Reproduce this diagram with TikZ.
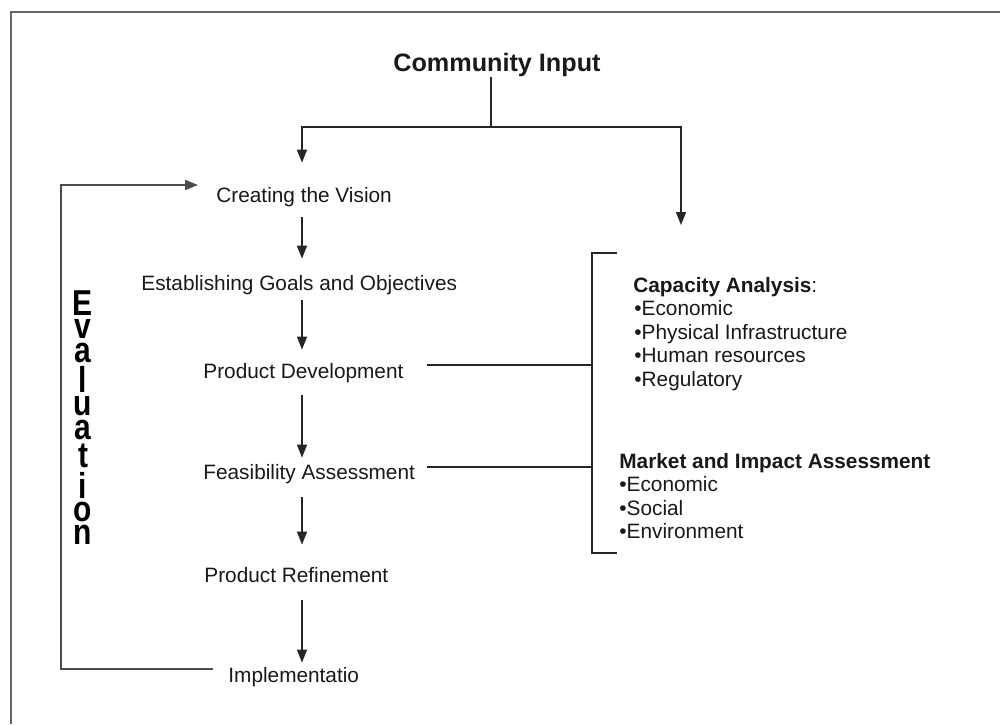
\documentclass[tikz,border=0pt]{standalone}
\usepackage{fontspec}
\setmainfont{Liberation Sans}
\usepackage{graphicx}
\usetikzlibrary{arrows.meta}
\begin{document}
\begin{tikzpicture}[x=0.5pt,y=-0.5pt,
  txt/.style={inner sep=0pt, font=\fontsize{10.4pt}{12pt}\selectfont, text=black!90, anchor=base west, text height=7.5pt, text depth=2pt},
  ln/.style={draw=black!85, line width=0.75pt},
  frm/.style={draw=black!60, line width=1pt},
  tip/.style={-{Triangle[width=5pt,length=6.5pt]}},
  arr/.style={ln, tip},
  ev/.style={inner sep=0pt, anchor=base, font=\fontsize{15pt}{17pt}\selectfont\bfseries, text=black}]
\useasboundingbox (0,0) rectangle (1000,724);
\fill[white] (0,0) rectangle (1000,724);
% outer frame
\draw[frm] (11,724) -- (11,12) -- (1000,12);
% nodes
\node[txt, font=\fontsize{12.6pt}{14pt}\selectfont\bfseries, text height=9pt, text depth=2.5pt] (CI) at (393,71.5) {Community Input};
\node[txt] (CV) at (216,202.5) {Creating the Vision};
\node[txt] (EG) at (141,290.5) {Establishing Goals and Objectives};
\node[txt] (PD) at (203,378.5) {Product Development};
\node[txt] (FA) at (203,479.5) {Feasibility Assessment};
\node[txt] (PR) at (204,582) {Product Refinement};
\node[txt] (IM) at (228,682) {Implementatio};
% right column
\node[txt] (CA0) at (633,292) {\textbf{Capacity Analysis}:};
\node[txt] (CA1) at (634,315.5) {•Economic};
\node[txt] (CA2) at (634,339) {•Physical Infrastructure};
\node[txt] (CA3) at (634,362.5) {•Human resources};
\node[txt] (CA4) at (634,386) {•Regulatory};
\node[txt] (MA0) at (619,468) {\textbf{Market and Impact Assessment}};
\node[txt] (MA1) at (619,491.5) {•Economic};
\node[txt] (MA2) at (619,515) {•Social};
\node[txt] (MA3) at (619,538.5) {•Environment};
% Evaluation
\foreach \ch/\yy [count=\k] in {E/315.8, v/338.9, a/362.4, l/392.6, u/415.9, a/439.4, t/467.8, i/498, o/521.7, n/544.8}
  \node[ev] (ev\k) at (83,\yy) {\scalebox{1}[1.2]{\ch}};
% coordinates
\coordinate (ax) at (302,0);
\coordinate (J) at (491,127);
\coordinate (RA) at (681,225);
\coordinate (BT) at (592,253);
\coordinate (BB) at (592,553);
\coordinate (B1) at (592,365);
\coordinate (B2) at (592,467);
\coordinate (Lb) at (61,669);
\coordinate (Lt) at (61,185);
% top connectors
\draw[ln] (CI.south -| J) -- (J);
\draw[arr, shorten >=12.25pt] (J) -| (CV.north -| ax);
\draw[arr] (J) -| (RA);
% vertical chain
\draw[arr, shorten <=5.25pt, shorten >=8.25pt] (CV.south -| ax) -- (EG.north -| ax);
\draw[arr, shorten <=2.75pt, shorten >=6.75pt] (EG.south -| ax) -- (PD.north -| ax);
\draw[arr, shorten <=6.25pt, shorten >=3.25pt] (PD.south -| ax) -- (FA.north -| ax);
\draw[arr, shorten <=6.75pt, shorten >=11pt] (FA.south -| ax) -- (PR.north -| ax);
\draw[arr, shorten <=7pt, shorten >=2pt] (PR.south -| ax) -- (IM.north -| ax);
% bracket
\draw[ln] ([xshift=12.5pt]BT) -- (BT) -- (BB) -- ([xshift=12.5pt]BB);
\draw[ln] ([xshift=11.5pt]PD.east |- B1) -- (B1);
\draw[ln] ([xshift=6pt]FA.east |- B2) -- (B2);
% evaluation loop
\draw[frm, draw=black!70, tip] ([xshift=-7.5pt]IM.west |- Lb) -- (Lb) -- (Lt) -- ([xshift=-9pt]CV.west |- Lt);
\end{tikzpicture}
\end{document}
